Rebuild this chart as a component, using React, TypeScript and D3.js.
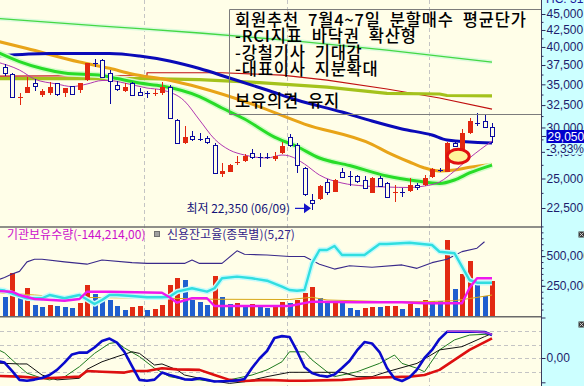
import React, { useEffect, useRef } from "react";
import * as d3 from "d3";

type Pt = [number, number];

// daily candles, oldest first (index 0..65)
const opens = [37250, 36310, 33400, 33970, 35200, 33730, 33900, 35120, 33900, 34790,
  34300, 35540, 37720, 38170, 36400, 34910, 34180, 35200, 34090, 33900,
  33850, 33900, 34630, 30810, 28400, 29100, 28810, 28850, 28170, 25400,
  25610, 26390, 26630, 27360, 26960, 27020, 26770, 27420, 28960, 28170,
  25920, 23150, 23210, 24720, 23850, 25610, 25220, 25220, 24870, 23760,
  25070, 24630, 23760, 23850, 23930, 24430, 24430, 25100, 25770, 25610,
  28340, 27680, 29380, 30510, 30730, 30030];
const highs = [37700, 36400, 33970, 35880, 35630, 34380, 35250, 35200, 34580, 34800,
  35200, 37800, 38270, 38270, 36830, 35420, 35120, 35290, 34580, 34180,
  34420, 35250, 34910, 30880, 30160, 29620, 29380, 29100, 28340, 26390,
  26320, 27090, 27290, 27750, 27360, 27420, 27520, 28510, 29270, 28340,
  26070, 23630, 24430, 24930, 24930, 25920, 25700, 25310, 25220, 25160,
  25220, 24720, 24430, 24140, 25020, 24630, 25310, 25920, 25920, 28510,
  28510, 29800, 31000, 31630, 31370, 30510];
const lows = [36050, 33300, 32510, 33950, 34220, 33410, 33690, 33610, 33410, 33690,
  33900, 35450, 37190, 35950, 32590, 34220, 34100, 33690, 33690, 33290,
  33570, 33690, 30990, 28240, 28330, 28610, 28610, 28310, 25400, 25160,
  25560, 26230, 26550, 26770, 26070, 26770, 26630, 27290, 28000, 25460,
  23490, 22350, 23150, 23570, 23800, 25020, 24340, 24630, 24050, 23700,
  24230, 23380, 23010, 23380, 23840, 23990, 24340, 25020, 25550, 25550,
  27950, 27510, 29310, 30160, 29900, 28400];
const closes = [36400, 33410, 33480, 34700, 34790, 34140, 34700, 33780, 34510, 33780,
  35120, 37720, 37580, 35960, 35330, 34420, 34700, 33780, 33780, 33810,
  33970, 34630, 31000, 28400, 28960, 28750, 28750, 28400, 25460, 25700,
  26230, 26550, 27090, 26960, 26860, 26920, 27090, 28070, 28170, 26230,
  23630, 22930, 24340, 23850, 24870, 25160, 25160, 24780, 24140, 25070,
  24340, 23430, 23850, 23760, 24430, 24230, 25020, 25830, 25680, 28400,
  28000, 29440, 30730, 30370, 30030, 29050];
const volumes = [153000, 355000, 153000, 234000, 88000, 74000, 88500, 84000, 74000, 66000,
  103000, 257000, 181000, 150000, 130000, 80000, 46000, 74000, 78000, 46000,
  57000, 88000, 257000, 318000, 299000, 130000, 116000, 88000, 332000, 153000,
  101000, 109000, 80000, 94000, 80000, 66000, 74000, 116000, 109000, 130000,
  192000, 242000, 145000, 108000, 114000, 103000, 61000, 46000, 61000, 74000,
  69000, 80000, 84000, 52000, 94000, 61000, 130000, 122000, 119000, 636000,
  223000, 349000, 459000, 271000, 164000, 290000];

// moving averages [candle index, price]
const maLong: Pt[] = [[-1, 44300], [13, 43100], [26, 42050], [39, 40850], [51, 39560], [65, 37900]];
const maStep: Pt[] = [[-1, 36050], [19, 36120], [19, 36480], [29, 36480], [37, 36180], [43, 35540], [51, 34420], [58, 33330], [65, 32040]];
const maOlive: Pt[] = [[-1, 35730], [19, 35730], [26, 35600], [34, 35220], [43, 34660], [51, 33890], [58, 33810], [59, 33630], [65, 33590]];
const ma60: Pt[] = [[-1, 38720], [6, 39070], [14, 39070], [18, 38720], [22, 38040], [26, 37030], [30, 35800], [35, 34300],
  [39, 33090], [45, 31700], [49, 30700], [53, 29840], [57, 29200], [59, 28680], [65, 28380]];
const ma40: Pt[] = [[-1, 40850], [3, 39770], [10, 37900], [14, 37060], [17, 36310], [22, 35510], [26, 34600], [33, 32620],
  [40, 30370], [49, 28250], [51, 27480], [54, 26520], [56, 25960], [58, 25680], [60, 25770], [62, 26020], [65, 26280]];
const ma20: Pt[] = [[-1, 39280], [2, 37970], [5, 37030], [8, 36440], [13, 36120], [15, 35730], [18, 35160], [21, 34790],
  [26, 33510], [29, 32160], [32, 30920], [36, 28990], [39, 28030], [42, 26900], [46, 26190], [51, 25220], [55, 24780],
  [58, 24560], [60, 24870], [62, 25500], [65, 26230]];
const ma5: Pt[] = [[-1, 37900], [2, 36830], [4, 35670], [7, 35040], [9, 34720], [11, 35040], [13, 35480], [14, 35480],
  [16, 35160], [19, 34540], [21, 34300], [24, 32970], [26, 30810], [28, 28790], [30, 27680], [32, 27190], [35, 26900],
  [37, 27190], [38, 27090], [40, 26330], [42, 25310], [45, 24600], [48, 24340], [51, 24250], [54, 24210], [56, 24340],
  [58, 24690], [60, 25680], [62, 26900], [65, 28580]];

// volume panel lines
const instHold: Pt[] = [[-1, 27.8], [1, 27], [2, 23.3], [4, 18.9], [8, 17], [10, 18.9], [11, 27], [14, 27], [21, 25.9],
  [22, 20.8], [23, 14.8], [25, 19.7], [27, 19.7], [28, 11.1], [38, 11.1], [41, 15.9], [47, 15.2], [53, 15.2], [56, 14.1],
  [61, 14.1], [62, 31.1], [63, 41.9], [65, 41.9]];
const cyanLine: Pt[] = [[-1, 29.4], [0, 28.3], [1, 25], [3, 19.7], [5, 19.7], [6, 23.3], [8, 19.7], [10, 23.3], [12, 13.3],
  [13, 17.8], [14, 23.3], [15, 23.3], [17, 22.2], [19, 20.8], [21, 20.8], [22, 21.4], [23, 27], [25, 30.8], [27, 27],
  [28, 30.8], [29, 41.9], [31, 43.7], [33, 41.9], [35, 39.2], [37, 32.6], [38, 28.9], [39, 28.1], [40, 28.9], [41, 58.6],
  [42, 73.3], [43, 73.3], [44, 77.8], [45, 67.8], [48, 67.8], [50, 80], [51, 80], [54, 81.4], [57, 78.9], [58, 71.4],
  [60, 69.7], [61, 54.8], [62, 40], [63, 37], [65, 37]];
const goldLine: Pt[] = [[-1, 26.1], [4, 23.3], [8, 20.8], [14, 20.3], [22, 19.7], [28, 18.6], [38, 18.3], [41, 20.8],
  [43, 17.8], [51, 15.9], [56, 15.9], [60, 17], [62, 19.4], [65, 23.3]];
const creditRatio: Pt[] = [[-1, 4.26], [0, 4.33], [1, 4.42], [2, 4.49], [3, 4.74], [4, 4.81], [5, 4.81], [8, 4.74],
  [11, 4.68], [13, 4.79], [17, 4.72], [19, 4.7], [24, 4.7], [25, 4.79], [26, 4.7], [29, 4.7], [31, 5.03], [32, 4.94],
  [35, 4.92], [38, 4.88], [40, 4.88], [42, 4.68], [44, 4.55], [46, 4.64], [49, 4.6], [53, 4.66], [55, 4.57], [57, 4.72],
  [59, 4.81], [61, 5.01], [63, 5.1], [64, 5.27]];

// oscillator panel
const oscBlue: Pt[] = [[-1, -11], [0, -17], [1, -48], [2, -81], [3, -84], [4, -80], [5, -74], [6, -63], [7, -44], [8, -17],
  [9, 13], [10, 20], [11, 20], [12, 39], [13, 63], [14, 72], [15, 57], [16, 22], [17, -30], [18, -81], [19, -84], [20, -80],
  [21, -54], [22, -63], [23, -70], [24, -79], [25, -80], [26, -75], [27, -81], [28, -87], [29, -86], [30, -85], [31, -83],
  [32, -78], [33, -37], [34, -2], [35, 26], [36, 74], [37, 81], [38, 78], [39, 26], [40, -33], [41, -56], [42, -65],
  [43, -69], [44, -61], [45, -37], [46, -11], [47, 28], [48, 59], [49, 54], [50, 22], [51, -37], [52, -76], [53, -85],
  [54, -72], [55, -43], [56, 0], [57, 30], [58, 70], [59, 97], [63, 97], [64, 96], [65, 85]];
const oscGreen: Pt[] = [[-1, 33], [0, 19], [2, -32], [3, -56], [5, -75], [6, -81], [8, -70], [10, -32], [12, 17], [14, 54],
  [15, 58], [16, 37], [18, 5], [20, -38], [22, -69], [24, -79], [26, -81], [28, -88], [30, -81], [33, -63], [35, -44],
  [37, -14], [38, 23], [40, 23], [41, -7], [43, -51], [44, -69], [47, -51], [50, -20], [52, 11], [53, -20], [55, -38],
  [56, -51], [58, 30], [60, 67], [62, 85], [65, 89]];
const oscBlack: Pt[] = [[-1, -19], [2, -22], [3, -22], [5, -63], [7, -81], [10, -75], [11, -42], [13, -14], [15, 5],
  [17, 23], [18, 17], [20, -26], [21, -22], [23, -44], [24, -63], [27, -81], [30, -94], [32, -88], [35, -69], [38, -53],
  [45, -53], [47, -69], [49, -69], [51, -51], [55, -20], [58, 30], [61, 42], [64, 79], [65, 91]];
const oscRed: Pt[] = [[-1, -66], [2, -69], [5, -75], [7, -73], [10, -69], [11, -48], [13, -51], [16, -54], [17, -48],
  [19, -48], [21, -38], [23, -42], [26, -44], [28, -63], [30, -81], [32, -85], [35, -81], [38, -84], [40, -84], [45, -81],
  [49, -73], [54, -69], [56, -63], [58, -44], [60, -7], [62, 30], [65, 73]];
const oscSignal: Pt[] = [[59, 99], [62, 99], [64, 95], [65, 88]];

const priceTicks = [22500, 25000, 27500, 30000, 32500, 35000, 37500, 40000, 42500, 45000];
const priceMinor = [23750, 26250, 28750, 31250, 33750, 36250, 38750, 41250, 43750];
const volumeTicks = [250000, 500000];
const volumeMinor = d3.range(50000, 800000, 50000);
const oscTicks = [0];
const oscMinor = [-90, 150];
const oscGridValues = [-50, 0, 50, 100];
const monthBreaks = [18.65, 37.65, 56.65];

const noteLines = ["회원추천 7월4~7일 분할매수 평균단가", "-RCI지표 바닥권 확산형", "-강철기사 기대감", "-대표이사 지분확대", "", "보유의견 유지"];
const lowIndex = 41;
const lowNote = "최저 22,350 (06/09)";
const markIndex = 60.5;
const markPrice = 27060;
const lastPrice = 29050;
const lastChange = "-3,33%";
const headLabel = "HC: 31,630";
const instLegend = "기관보유수량(-144,214,00)";
const creditLegend = "신용잔고율(종목별)(5,27)";

const W = 584, H = 386, R = 541;
const KR = "'Noto Sans CJK KR', sans-serif";
const LAT = "'Liberation Sans', Arial, sans-serif";

export default function App() {
  const svgRef = useRef<SVGSVGElement>(null);

  useEffect(() => {
    const svg = d3.select(svgRef.current as SVGSVGElement);
    svg.selectAll("*").remove();

    const bg = "#FFFEE8";
    svg.append("rect").attr("width", W).attr("height", H).attr("fill", bg);
    svg.append("rect").attr("x", R).attr("width", W - R).attr("height", H).attr("fill", "#CCFFFF");

    const x = d3.scaleLinear().domain([0, 65]).range([4.5, 492]);
    const yPrice = d3.scaleLog().domain([22500, 45000]).range([208, 14]);
    const yVol = d3.scaleLinear().domain([0, 750000]).range([315.5, 226.4]);
    const yAux = d3.scaleLinear().domain([0, 100]).range([316, 226]);
    const yCredit = d3.scaleLinear().domain([3.35, 5.7]).range([314.7, 225.4]);
    const yOsc = d3.scaleLinear().domain([-100, 100]).range([385, 331]);

    const defs = svg.append("defs");
    const clip = (id: string, y0: number, y1: number) =>
      defs.append("clipPath").attr("id", id).append("rect")
        .attr("x", 0).attr("y", y0).attr("width", R).attr("height", y1 - y0);
    clip("cPrice", 0, 226.5);
    clip("cVol", 227.5, 316);
    clip("cOsc", 317.5, H);

    // grid
    const grid = svg.append("g").attr("stroke", "#C4C4C4").attr("stroke-dasharray", "4,3");
    monthBreaks.forEach(m => {
      const gx = Math.round(x(m)) + 0.5;
      grid.append("line").attr("x1", gx).attr("x2", gx).attr("y1", 0).attr("y2", H);
    });
    oscGridValues.forEach(v => {
      const gy = Math.round(yOsc(v)) + 0.5;
      grid.append("line").attr("x1", 0).attr("x2", R).attr("y1", gy).attr("y2", gy);
    });

    const drawLine = (g: any, data: Pt[], ys: any, color: string, width: number,
      curve: any = d3.curveMonotoneX, halo?: string) => {
      const gen = d3.line<Pt>().x(d => x(d[0])).y(d => ys(d[1])).curve(curve);
      if (halo) {
        g.append("path").attr("d", gen(data)).attr("fill", "none").attr("stroke", halo)
          .attr("stroke-width", width + 3).attr("stroke-linejoin", "round");
      }
      g.append("path").attr("d", gen(data)).attr("fill", "none").attr("stroke", color)
        .attr("stroke-width", width).attr("stroke-linejoin", "round");
    };

    // ---- price panel
    const gp = svg.append("g").attr("clip-path", "url(#cPrice)");
    drawLine(gp, maLong, yPrice, "#44D844", 1.3, d3.curveMonotoneX, "#DDFADD");
    drawLine(gp, maStep, yPrice, "#C01010", 1.2, d3.curveLinear);
    drawLine(gp, maOlive, yPrice, "#A4C21C", 3.2, d3.curveLinear);
    drawLine(gp, ma40, yPrice, "#E8A418", 3);
    drawLine(gp, ma60, yPrice, "#0A0AB8", 3);
    drawLine(gp, ma20, yPrice, "#28DC28", 3, d3.curveMonotoneX, "#D4FCC8");
    drawLine(gp, ma5, yPrice, "#B038B0", 1);

    const red = "#E22810", blue = "#0A0AA0";
    const candles = gp.append("g").attr("shape-rendering", "crispEdges");
    opens.forEach((o, i) => {
      const c = closes[i];
      const up = c > o;
      const col = up ? red : blue;
      const cx = Math.round(x(i));
      candles.append("line").attr("x1", cx + 0.5).attr("x2", cx + 0.5)
        .attr("y1", yPrice(highs[i])).attr("y2", yPrice(lows[i])).attr("stroke", col);
      const top = yPrice(Math.max(o, c));
      const bot = yPrice(Math.min(o, c));
      if (bot - top < 1.5) {
        candles.append("line").attr("x1", cx - 2).attr("x2", cx + 3)
          .attr("y1", Math.round(top) + 0.5).attr("y2", Math.round(top) + 0.5).attr("stroke", col);
      } else if (up) {
        candles.append("rect").attr("x", cx - 2).attr("y", top).attr("width", 5)
          .attr("height", bot - top).attr("fill", col);
      } else {
        candles.append("rect").attr("x", cx - 1.5).attr("y", Math.round(top) + 0.5).attr("width", 4)
          .attr("height", Math.round(bot - top)).attr("fill", bg).attr("stroke", col);
      }
    });

    // circled mark
    gp.append("ellipse").attr("cx", x(markIndex)).attr("cy", yPrice(markPrice)).attr("rx", 11).attr("ry", 7)
      .attr("fill", "#FFF49A").attr("stroke", "#E01010").attr("stroke-width", 3);

    // low note + arrow
    const lx = x(lowIndex), ly = yPrice(lows[lowIndex]);
    svg.append("text").attr("x", lx - 22).attr("y", ly + 3).attr("text-anchor", "end")
      .attr("font-family", KR).attr("font-size", 12).attr("fill", "#141478").text(lowNote);
    svg.append("line").attr("x1", lx - 17).attr("x2", lx - 7).attr("y1", ly - 1.5).attr("y2", ly - 1.5)
      .attr("stroke", "#1414C8").attr("stroke-width", 1.2);
    svg.append("path").attr("d", `M${lx - 8},${ly - 6.5}L${lx - 1},${ly - 1.5}L${lx - 8},${ly + 3.5}Z`)
      .attr("fill", "#1414C8");

    // note box
    svg.append("path").attr("d", `M${R},9.5H229.5V114.5H${R}`).attr("fill", "none").attr("stroke", "#7C7C7C");
    const baselines = [26, 42, 58.5, 75, 91, 107];
    noteLines.forEach((t, k) => {
      if (!t) return;
      svg.append("text").attr("x", 235).attr("y", baselines[k]).attr("font-family", KR)
        .attr("font-size", 16.5).attr("font-weight", 500).attr("letter-spacing", 0.8).attr("fill", "#000")
        .text(t.replace(/ /g, "\u2002"));
    });

    // ---- volume panel
    const gv = svg.append("g").attr("clip-path", "url(#cVol)");
    const bars = gv.append("g").attr("shape-rendering", "crispEdges");
    volumes.forEach((v, i) => {
      const rising = i > 0 && v > volumes[i - 1];
      const cx = Math.round(x(i));
      bars.append("rect").attr("x", cx - 2).attr("y", yVol(v)).attr("width", 5)
        .attr("height", yVol(0) - yVol(v)).attr("fill", rising ? "#E22A12" : "#1F5FCF");
    });
    drawLine(gv, goldLine, yAux, "#D8A818", 1, d3.curveLinear);
    drawLine(gv, creditRatio, yCredit, "#3A2A8A", 1.1, d3.curveLinear);
    drawLine(gv, cyanLine, yAux, "#30DEE0", 2.4, d3.curveLinear, "#C8FAFA");
    drawLine(gv, instHold, yAux, "#EE18EE", 2.4, d3.curveLinear);

    svg.append("text").attr("x", 7).attr("y", 238.5).attr("font-family", KR).attr("font-size", 12)
      .attr("fill", "#CC10CC").text(instLegend);
    svg.append("rect").attr("x", 154.5).attr("y", 231.5).attr("width", 5).attr("height", 5)
      .attr("fill", "#A0A0A0").attr("stroke", "#707070");
    svg.append("text").attr("x", 167).attr("y", 238.5).attr("font-family", KR).attr("font-size", 12)
      .attr("fill", "#33248A").text(creditLegend);

    // ---- oscillator panel
    const go = svg.append("g").attr("clip-path", "url(#cOsc)");
    drawLine(go, oscGreen, yOsc, "#1E7A1E", 1, d3.curveLinear);
    drawLine(go, oscBlack, yOsc, "#111111", 1, d3.curveLinear);
    drawLine(go, oscRed, yOsc, "#DD1010", 2.6, d3.curveLinear);
    drawLine(go, oscBlue, yOsc, "#0A0ACC", 2.6, d3.curveLinear);
    drawLine(go, oscSignal, yOsc, "#B040D8", 1.5, d3.curveLinear);

    // separators
    const sep = svg.append("g").attr("stroke", "#6A6A6A").attr("stroke-width", 1.5);
    [227, 316.8].forEach(sy => sep.append("line").attr("x1", 0).attr("x2", R).attr("y1", sy).attr("y2", sy));

    // ---- right axes
    svg.append("line").attr("x1", R + 0.5).attr("x2", R + 0.5).attr("y1", 0).attr("y2", H)
      .attr("stroke", "#3C3C5C");
    const styleAxis = (g: any) => {
      g.select(".domain").remove();
      g.attr("font-family", LAT).attr("font-size", 12);
      g.selectAll("line").attr("stroke", "#2C2C5C");
      g.selectAll("text").attr("fill", "#1C1C6C");
    };
    const fmt = d3.format(",");
    const axisAt = (axis: any) => {
      const g = svg.append("g").attr("transform", `translate(${R + 0.5},0)`).call(axis);
      styleAxis(g);
      return g;
    };
    axisAt(d3.axisRight(yPrice).tickValues(priceTicks).tickSize(4).tickPadding(1).tickFormat(fmt as any));
    axisAt(d3.axisRight(yPrice).tickValues(priceMinor).tickSize(2).tickFormat(() => ""));
    axisAt(d3.axisRight(yVol).tickValues(volumeTicks).tickSize(4).tickPadding(1).tickFormat(fmt as any));
    axisAt(d3.axisRight(yVol).tickValues(volumeMinor).tickSize(2).tickFormat(() => ""));
    axisAt(d3.axisRight(yOsc).tickValues(oscTicks).tickSize(4).tickPadding(1).tickFormat(() => "0,00"));
    axisAt(d3.axisRight(yOsc).tickValues(oscMinor).tickSize(4).tickFormat(() => ""));

    // current price tag and change
    const py = yPrice(lastPrice);
    svg.append("rect").attr("x", 545).attr("y", py + 7).attr("width", 39).attr("height", 11).attr("fill", "#CCFFFF");
    svg.append("rect").attr("x", 546.5).attr("y", py - 6.5).attr("width", 38).attr("height", 13).attr("fill", "#0000CC");
    svg.append("line").attr("x1", R + 0.5).attr("x2", 546).attr("y1", py).attr("y2", py).attr("stroke", "#2C2C5C");
    svg.append("text").attr("x", 547.5).attr("y", py).attr("dy", "0.35em").attr("font-family", LAT)
      .attr("font-size", 12).attr("fill", "#FFFFFF").text(fmt(lastPrice));
    svg.append("text").attr("x", 546).attr("y", py + 12.5).attr("dy", "0.35em").attr("font-family", LAT)
      .attr("font-size", 12).attr("fill", "#1C1C6C").text(lastChange);
    svg.append("text").attr("x", 546).attr("y", 3).attr("font-family", LAT)
      .attr("font-size", 12).attr("fill", "#1C1C9C").text(headLabel);

    // panel icons
    [231.5, 321.5].forEach(iy => {
      svg.append("rect").attr("x", 578.5).attr("y", iy).attr("width", 6).attr("height", 6).attr("fill", "#3A3A3A");
      svg.append("path").attr("d", `M579.5,${iy + 1}l4,4M583.5,${iy + 1}l-4,4`).attr("stroke", "#DDDDDD").attr("stroke-width", 0.8);
    });
  }, []);

  return (
    <svg ref={svgRef} width={W} height={H}
      style={{ position: "fixed", left: 0, top: 0, display: "block" }} />
  );
}
